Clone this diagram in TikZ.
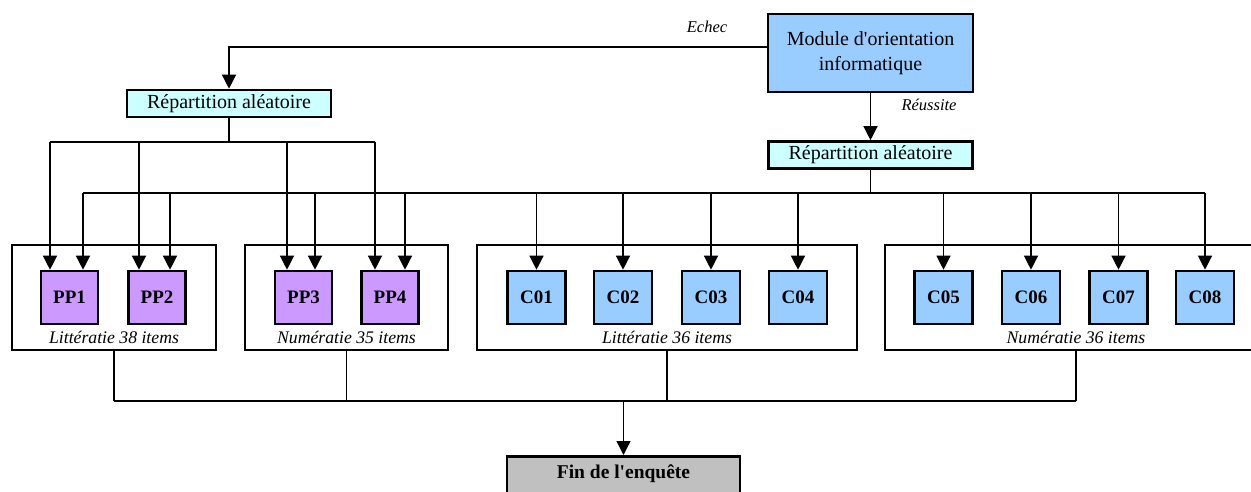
\documentclass[tikz,border=0pt]{standalone}
\usepackage{fontspec}
\setmainfont{Liberation Serif}
\usetikzlibrary{arrows.meta}
\definecolor{modblue}{HTML}{99CCFF}
\definecolor{repcyan}{HTML}{CCFFFF}
\definecolor{pppurple}{HTML}{CC99FF}
\definecolor{fingray}{HTML}{C0C0C0}
\def\txt#1{\fontsize{#1}{25}\selectfont}
\tikzset{
  box/.style={draw, line width=2.6pt, inner sep=0pt, align=center},
  rep/.style={box, fill=repcyan, minimum width=204pt, minimum height=27pt, font=\txt{20}},
  ppbox/.style={box, fill=pppurple, minimum width=57pt, minimum height=53pt, font=\txt{19}\bfseries},
  cbox/.style={box, fill=modblue, minimum width=58pt, minimum height=53pt, font=\txt{19}\bfseries},
  grp/.style={draw, line width=2.6pt, minimum height=105pt, inner sep=0pt},
  grplabel/.style={anchor=base, font=\txt{17.7}\itshape},
  small/.style={font=\txt{16.5}\itshape},
  wire/.style={line width=1.3pt},
  arr/.style={wire, -{Triangle[width=14pt,length=14pt]}}
}

\begin{document}
\begin{tikzpicture}[x=1pt,y=-1pt]
		%%%%% START %%%%%
		\useasboundingbox (0,0) rectangle (1251,492);
		
		\node[box, fill=modblue, minimum width=205pt, minimum height=78pt, font=\txt{20}] (mod) at (870.5,53) {Module d\textquotesingle orientation\\informatique};
		\node[rep] (repL) at (229,103.5) {Répartition aléatoire};
		\node[rep] (repR) at (870.5,155) {Répartition aléatoire};
		\node[small] (echec) at (707,27) {Echec};
		\node[small] (reussite) at (929,105) {Réussite};
		
		% groupes
		\node[grp, minimum width=204pt] (g1) at (114,297.5) {};
		\node[grp, minimum width=203pt] (g2) at (346.5,297.5) {};
		\node[grp, minimum width=380pt] (g3) at (667,297.5) {};
		\node[grp, minimum width=382pt] (g4) at (1076,297.5) {};
		\node[grplabel] (lab1) at (114,343) {Littératie 38 items};
		\node[grplabel] (lab2) at (346.5,343) {Numératie 35 items};
		\node[grplabel] (lab3) at (667,343) {Littératie 36 items};
		\node[grplabel] (lab4) at (1076,343) {Numératie 36 items};
		
		\foreach \n/\x in {1/69.5,2/157,3/303.5,4/390}
			\node[ppbox] (pp\n) at (\x,297.5) {PP\n};
		\foreach \n/\x in {1/536.5,2/623,3/711,4/798,5/943.5,6/1031,7/1118.5,8/1205}
			\node[cbox] (c\n) at (\x,297.5) {C0\n};
		
		\node[box, fill=fingray, anchor=north, minimum width=233pt, inner ysep=9pt, text height=13pt, text depth=22pt, font=\txt{19.5}\bfseries] (fin) at (623.5,455) {Fin de l\textquotesingle enquête};
		
		% echec / reussite
		\draw[arr] ([yshift=6pt]mod.west) -| (repL.north);
		\draw[arr] (mod.south) -- (repR.north);
		
		% repartition gauche
		\coordinate (jl) at (229,142);
		\draw[wire] (repL.south) -- (jl);
		\foreach \i/\x/\n in {1/50/pp1,2/139/pp2,3/287/pp3,4/375/pp4}{
			\coordinate (tl\i) at (\x,142);
			\draw[arr] (tl\i) -- (tl\i |- \n.north);
		}
		\draw[wire] (tl1) -- (tl4);
		
		% repartition droite
		\coordinate (jr) at (870.5,193);
		\draw[wire] (repR.south) -- (jr);
		\foreach \i/\x/\n in {1/83/pp1,2/170/pp2,3/315/pp3,4/405/pp4,5/536.5/c1,6/623/c2,7/711/c3,8/798/c4,9/943.5/c5,10/1031/c6,11/1118.5/c7,12/1205/c8}{
			\coordinate (tr\i) at (\x,193);
			\draw[arr] (tr\i) -- (tr\i |- \n.north);
		}
		\draw[wire] (tr1) -- (tr12);
		
		% fin
		\coordinate (bb) at (0,401);
		\foreach \g in {g1,g2,g3,g4}
			\draw[wire] (\g.south) -- (\g.south |- bb);
		\draw[wire] (g1.south |- bb) -- (g4.south |- bb);
		\draw[arr] (fin.north |- bb) -- (fin.north);
		%%%%% END %%%%%
	\end{tikzpicture}
\end{document}
